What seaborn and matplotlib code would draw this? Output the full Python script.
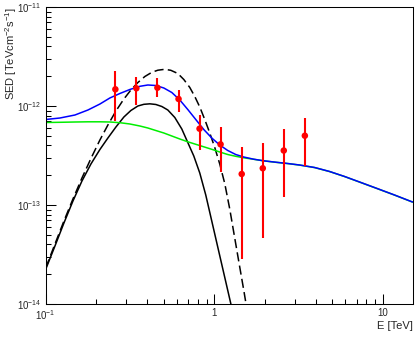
import numpy as np
import matplotlib
matplotlib.use("Agg")
import matplotlib.pyplot as plt
import matplotlib.ticker as mticker
import seaborn as sns
import pandas as pd

# Puntos medidos (E en TeV, SED en TeV cm^-2 s^-1)
e_pts = [0.259, 0.345, 0.46, 0.614, 0.818, 1.09, 1.455, 1.94, 2.585, 3.447]
sed_pts = [1.475e-12, 1.51e-12, 1.53e-12, 1.178e-12, 5.90e-13, 4.10e-13, 2.056e-13, 2.35e-13, 3.55e-13, 5.01e-13]
sed_hi = [2.257e-12, 1.95e-12, 1.905e-12, 1.452e-12, 8.11e-13, 6.18e-13, 3.88e-13, 4.26e-13, 5.86e-13, 7.51e-13]
sed_lo = [7.10e-13, 1.016e-12, 1.225e-12, 8.76e-13, 3.60e-13, 2.17e-13, 2.83e-14, 4.68e-14, 1.213e-13, 2.49e-13]

# Modelo total (azul) y componente verde
e_model = [0.1, 0.1215, 0.1491, 0.1781, 0.2097, 0.2403, 0.2756, 0.3158, 0.362, 0.4037,
           0.4502, 0.5021, 0.56, 0.6246, 0.6966, 0.7769, 0.8665, 0.9665, 1.0779, 1.2023,
           1.3409, 1.4956, 1.714, 1.9655, 2.3137, 2.7254, 3.2098, 3.939, 4.833, 5.931,
           7.278, 9.178, 11.73, 15.0]
sed_total = [7.304e-13, 7.564e-13, 8.11e-13, 9.112e-13, 1.047e-12, 1.205e-12, 1.338e-12, 1.468e-12,
             1.581e-12, 1.630e-12, 1.611e-12, 1.520e-12, 1.369e-12, 1.150e-12, 9.217e-13, 7.304e-13,
             5.789e-13, 4.751e-13, 4.037e-13, 3.552e-13, 3.236e-13, 3.053e-13, 2.901e-13, 2.796e-13,
             2.706e-13, 2.626e-13, 2.535e-13, 2.392e-13, 2.180e-13, 1.941e-13, 1.707e-13, 1.475e-13,
             1.262e-13, 1.072e-13]
sed_green = [6.813e-13, 6.845e-13, 6.892e-13, 6.924e-13, 6.924e-13, 6.892e-13, 6.782e-13, 6.580e-13,
             6.281e-13, 5.995e-13, 5.655e-13, 5.337e-13, 4.977e-13, 4.642e-13, 4.349e-13, 4.103e-13,
             3.871e-13, 3.652e-13, 3.431e-13, 3.236e-13, 3.104e-13, 2.998e-13, 2.895e-13, 2.790e-13,
             2.700e-13, 2.620e-13, 2.530e-13, 2.387e-13, 2.176e-13, 1.937e-13, 1.704e-13, 1.472e-13,
             1.259e-13, 1.070e-13]

# Componente negra continua
e_solid = [0.1, 0.1135, 0.1283, 0.1451, 0.1641, 0.1855, 0.2097, 0.2339, 0.261, 0.291,
           0.3201, 0.3523, 0.3823, 0.4149, 0.4502, 0.4887, 0.5303, 0.5834, 0.6419, 0.6966,
           0.7561, 0.8205, 0.8904, 0.9665, 1.0488, 1.1384, 1.2355, 1.2871]
sed_solid = [2.24e-14, 3.853e-14, 6.58e-14, 1.097e-13, 1.747e-13, 2.595e-13, 3.636e-13, 4.751e-13,
             6.137e-13, 7.742e-13, 9.006e-13, 1.0e-12, 1.040e-12, 1.052e-12, 1.036e-12, 9.884e-13,
             9.112e-13, 7.652e-13, 5.857e-13, 4.278e-13, 3.126e-13, 2.105e-13, 1.262e-13, 6.892e-14,
             3.765e-14, 2.056e-14, 1.123e-14, 8.30e-15]

# Componente negra discontinua
e_dash = [0.1, 0.1135, 0.1283, 0.1451, 0.1641, 0.1855, 0.2097, 0.2339, 0.261, 0.291,
          0.3201, 0.3523, 0.3876, 0.4263, 0.4627, 0.5091, 0.5524, 0.6079, 0.6596, 0.716,
          0.7664, 0.8205, 0.8784, 0.9404, 1.0069, 1.0779, 1.154, 1.2355, 1.3226, 1.4161,
          1.4956, 1.5579]
sed_dash = [2.31e-14, 4.037e-14, 6.892e-14, 1.150e-13, 1.874e-13, 2.949e-13, 4.535e-13, 6.429e-13,
            8.903e-13, 1.177e-12, 1.450e-12, 1.727e-12, 1.986e-12, 2.190e-12, 2.299e-12, 2.348e-12,
            2.294e-12, 2.130e-12, 1.853e-12, 1.538e-12, 1.247e-12, 9.770e-13, 7.304e-13, 5.337e-13,
            3.808e-13, 2.595e-13, 1.649e-13, 9.112e-14, 4.642e-14, 2.364e-14, 1.385e-14, 9.112e-15]

x_ticks = [0.1, 1, 10]
x_ticklabels = [r'$10^{-1}$', '1', '10']
y_ticks = [1e-14, 1e-13, 1e-12, 1e-11]

sns.set_style("ticks")
plt.rcParams['font.family'] = ['Liberation Sans', 'DejaVu Sans']
plt.rcParams['mathtext.fontset'] = 'custom'
plt.rcParams['mathtext.rm'] = 'Liberation Sans'
plt.rcParams['mathtext.it'] = 'Liberation Sans:italic'
plt.rcParams['mathtext.default'] = 'regular'

fig = plt.figure(figsize=(4.15, 3.4), dpi=100)
ax = fig.add_axes([0.1101, 0.1059, 0.8839, 0.8735])
ax.set_xscale('log')
ax.set_yscale('log')

df_model = pd.DataFrame({"E": e_model, "total": sed_total, "green": sed_green})
df_solid = pd.DataFrame({"E": e_solid, "sed": sed_solid})
df_dash = pd.DataFrame({"E": e_dash, "sed": sed_dash})

sns.lineplot(data=df_solid, x="E", y="sed", color="black", lw=1.1, sort=False, estimator=None, ax=ax)
sns.lineplot(data=df_dash, x="E", y="sed", color="black", lw=1.1, sort=False, estimator=None,
             ax=ax, linestyle=(0, (6, 2.8)))
sns.lineplot(data=df_model, x="E", y="green", color="#00ee00", lw=1.1, sort=False, estimator=None, ax=ax)
sns.lineplot(data=df_model, x="E", y="total", color="#0000ff", lw=1.1, sort=False, estimator=None, ax=ax)

# barras de error asimétricas
yerr = [np.array(sed_pts) - np.array(sed_lo), np.array(sed_hi) - np.array(sed_pts)]
ax.errorbar(e_pts, sed_pts, yerr=yerr, fmt='none', ecolor='red', elinewidth=1.5, capsize=0, zorder=5)
sns.scatterplot(x=e_pts, y=sed_pts, color='red', s=22, edgecolor='none', zorder=6, ax=ax)

ax.set_xlim(0.1, 15)
ax.set_ylim(1e-14, 1e-11)

ax.xaxis.set_major_locator(mticker.FixedLocator(x_ticks))
ax.xaxis.set_major_formatter(mticker.FixedFormatter(x_ticklabels))
ax.xaxis.set_minor_locator(mticker.LogLocator(base=10, subs=np.arange(2, 10), numticks=20))
ax.xaxis.set_minor_formatter(mticker.NullFormatter())
ax.yaxis.set_major_locator(mticker.FixedLocator(y_ticks))
ax.yaxis.set_major_formatter(mticker.LogFormatterSciNotation())
ax.yaxis.set_minor_locator(mticker.LogLocator(base=10, subs=np.arange(2, 10), numticks=20))
ax.yaxis.set_minor_formatter(mticker.NullFormatter())

ax.tick_params(which='both', direction='in', top=False, right=False, labelsize=7, pad=3, color='black')
ax.tick_params(which='major', length=7, width=0.75)
ax.tick_params(which='minor', length=3.8, width=0.75)
for sp in ax.spines.values():
    sp.set_visible(True)
    sp.set_linewidth(0.75)
    sp.set_color('black')

ax.set_xlabel("E [TeV]", fontsize=8, loc='right')
ax.set_ylabel(r"SED [TeVcm$^{-2}$s$^{-1}$]", fontsize=8, loc='top')
ax.xaxis.set_label_coords(1.0, -0.056)
ax.yaxis.set_label_coords(-0.072, 1.0)

fig.savefig("out.png", dpi=100)
plt.close(fig)
